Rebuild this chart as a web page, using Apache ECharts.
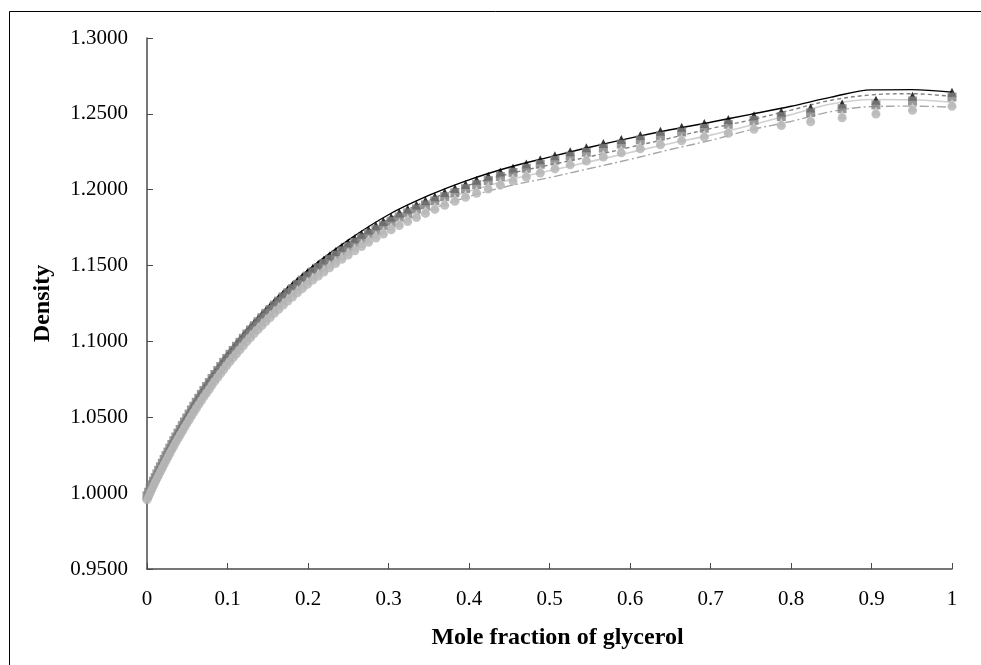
<!DOCTYPE html>
<html>
<head>
<meta charset="utf-8">
<script src="https://cdn.jsdelivr.net/npm/echarts@6/dist/echarts.min.js"></script>
<style>
html,body{margin:0;padding:0;background:#fff;}
#chart{width:981px;height:665px;}
</style>
</head>
<body>
<div id="chart"></div>
<script>
// Mole fraction of glycerol for the measured points
var moleFraction = [0,0.0020,0.0040,0.0060,0.0081,0.0102,0.0123,0.0145,0.0167,0.0190,
0.0213,0.0236,0.0260,0.0284,0.0309,0.0334,0.0359,0.0385,0.0412,0.0439,
0.0466,0.0494,0.0523,0.0552,0.0582,0.0612,0.0643,0.0675,0.0707,0.0740,
0.0774,0.0808,0.0843,0.0879,0.0916,0.0953,0.0991,0.1031,0.1071,0.1112,
0.1154,0.1197,0.1241,0.1286,0.1332,0.1380,0.1428,0.1478,0.1530,0.1582,
0.1636,0.1692,0.1749,0.1807,0.1868,0.1930,0.1993,0.2059,0.2127,0.2197,
0.2269,0.2343,0.2420,0.2499,0.2580,0.2665,0.2752,0.2843,0.2936,0.3033,
0.3134,0.3238,0.3347,0.3459,0.3576,0.3698,0.3825,0.3957,0.4095,0.4239,
0.4390,0.4547,0.4712,0.4885,0.5067,0.5257,0.5458,0.5669,0.5892,0.6128,
0.6378,0.6642,0.6923,0.7221,0.7540,0.7880,0.8244,0.8635,0.9055,0.9509,
1.0000];

var densBlackTri = [0.9991,1.0015,1.0040,1.0064,1.0088,1.0112,1.0136,1.0160,1.0184,1.0208,
1.0233,1.0258,1.0283,1.0308,1.0333,1.0358,1.0383,1.0408,1.0433,1.0458,
1.0483,1.0509,1.0535,1.0562,1.0588,1.0614,1.0640,1.0666,1.0693,1.0719,
1.0745,1.0772,1.0799,1.0825,1.0852,1.0879,1.0906,1.0933,1.0959,1.0986,
1.1013,1.1040,1.1068,1.1095,1.1123,1.1150,1.1177,1.1205,1.1232,1.1260,
1.1287,1.1315,1.1343,1.1370,1.1398,1.1426,1.1454,1.1482,1.1509,1.1537,
1.1565,1.1593,1.1621,1.1649,1.1677,1.1706,1.1734,1.1762,1.1790,1.1818,
1.1846,1.1873,1.1900,1.1927,1.1954,1.1981,1.2008,1.2035,1.2062,1.2089,
1.2116,1.2143,1.2170,1.2197,1.2224,1.2251,1.2277,1.2304,1.2331,1.2358,
1.2385,1.2411,1.2436,1.2462,1.2488,1.2513,1.2539,1.2565,1.2590,1.2616,
1.2642];

var densSquare = [0.9982,1.0006,1.0031,1.0055,1.0078,1.0102,1.0126,1.0150,1.0173,1.0197,
1.0222,1.0247,1.0271,1.0296,1.0321,1.0346,1.0370,1.0395,1.0420,1.0445,
1.0469,1.0495,1.0521,1.0548,1.0573,1.0599,1.0625,1.0651,1.0677,1.0703,
1.0729,1.0756,1.0782,1.0808,1.0835,1.0862,1.0888,1.0915,1.0941,1.0968,
1.0994,1.1021,1.1049,1.1076,1.1103,1.1130,1.1157,1.1185,1.1211,1.1239,
1.1266,1.1294,1.1321,1.1348,1.1376,1.1404,1.1431,1.1459,1.1486,1.1514,
1.1541,1.1569,1.1597,1.1625,1.1652,1.1681,1.1709,1.1737,1.1764,1.1792,
1.1820,1.1847,1.1873,1.1900,1.1927,1.1954,1.1980,1.2007,1.2034,1.2061,
1.2087,1.2114,1.2141,1.2168,1.2194,1.2221,1.2247,1.2274,1.2301,1.2328,
1.2354,1.2380,1.2405,1.2431,1.2457,1.2482,1.2508,1.2534,1.2559,1.2585,
1.2611];

var densLightTri = [0.9976,0.9999,1.0023,1.0047,1.0070,1.0093,1.0116,1.0139,1.0162,1.0186,
1.0210,1.0234,1.0258,1.0282,1.0307,1.0331,1.0355,1.0379,1.0403,1.0427,
1.0452,1.0477,1.0502,1.0528,1.0553,1.0578,1.0604,1.0629,1.0655,1.0680,
1.0705,1.0732,1.0758,1.0783,1.0809,1.0835,1.0861,1.0888,1.0913,1.0939,
1.0965,1.0991,1.1019,1.1045,1.1072,1.1098,1.1124,1.1151,1.1178,1.1205,
1.1231,1.1259,1.1286,1.1313,1.1341,1.1368,1.1396,1.1424,1.1450,1.1478,
1.1506,1.1533,1.1561,1.1589,1.1617,1.1645,1.1673,1.1701,1.1728,1.1756,
1.1784,1.1810,1.1837,1.1864,1.1890,1.1917,1.1944,1.1970,1.1997,1.2024,
1.2050,1.2077,1.2104,1.2130,1.2157,1.2184,1.2209,1.2236,1.2263,1.2290,
1.2316,1.2342,1.2367,1.2392,1.2418,1.2443,1.2468,1.2494,1.2519,1.2544,
1.2570];

var densCircle = [0.9956,0.9979,1.0003,1.0027,1.0050,1.0073,1.0096,1.0119,1.0142,1.0166,
1.0190,1.0214,1.0238,1.0262,1.0287,1.0311,1.0335,1.0359,1.0383,1.0407,
1.0432,1.0457,1.0482,1.0508,1.0533,1.0558,1.0584,1.0609,1.0635,1.0660,
1.0685,1.0712,1.0738,1.0763,1.0789,1.0815,1.0841,1.0868,1.0893,1.0919,
1.0945,1.0971,1.0999,1.1025,1.1052,1.1078,1.1104,1.1131,1.1158,1.1185,
1.1211,1.1239,1.1266,1.1293,1.1321,1.1348,1.1376,1.1404,1.1430,1.1458,
1.1486,1.1513,1.1541,1.1569,1.1597,1.1625,1.1653,1.1681,1.1708,1.1736,
1.1764,1.1790,1.1817,1.1844,1.1870,1.1897,1.1924,1.1950,1.1977,1.2004,
1.2030,1.2057,1.2084,1.2110,1.2137,1.2164,1.2189,1.2216,1.2243,1.2270,
1.2296,1.2322,1.2347,1.2372,1.2398,1.2423,1.2448,1.2474,1.2499,1.2524,
1.2550];

// Model curves
var curveX = [0,0.02,0.05,0.1,0.15,0.2,0.25,0.3,0.35,0.4,0.45,0.5,0.55,0.6,0.65,0.7,0.75,0.8,0.85,0.9,0.95,1.0];
var curveBlack = [0.9991,1.0220,1.0518,1.0918,1.1228,1.1470,1.1668,1.1835,1.1962,1.2065,1.2148,1.2215,1.2280,1.2340,1.2395,1.2445,1.2497,1.2550,1.2610,1.2658,1.2660,1.2643];
var curveDashed = [0.9982,1.0208,1.0503,1.0900,1.1208,1.1448,1.1643,1.1805,1.1932,1.2030,1.2105,1.2163,1.2218,1.2280,1.2340,1.2403,1.2460,1.2525,1.2590,1.2625,1.2633,1.2615];
var curveLight = [0.9971,1.0192,1.0485,1.0880,1.1185,1.1422,1.1615,1.1773,1.1900,1.1990,1.2065,1.2125,1.2185,1.2245,1.2305,1.2360,1.2425,1.2495,1.2565,1.2595,1.2593,1.2577];
var curveDashDot = [0.9957,1.0175,1.0465,1.0855,1.1160,1.1395,1.1585,1.1740,1.1865,1.1955,1.2025,1.2080,1.2140,1.2200,1.2265,1.2325,1.2395,1.2450,1.2515,1.2548,1.2551,1.2544];

var xTicks = [0,0.1,0.2,0.3,0.4,0.5,0.6,0.7,0.8,0.9,1];
var yTicks = [0.95,1.00,1.05,1.10,1.15,1.20,1.25,1.30];

function pairs(xs, ys){ return xs.map(function(x,i){ return [x, ys[i]]; }); }

var chart = echarts.init(document.getElementById('chart'), null, {renderer:'canvas'});
var serif = '"Liberation Serif", "DejaVu Serif", serif';
var axisCol = '#4a4a4a';

function lineSeries(ys, color, type, width){
  return {type:'line', data:pairs(curveX, ys), smooth:0.35, showSymbol:false, symbol:'none',
    lineStyle:{color:color, width:width, type:type}, z:2, silent:true};
}
function markSeries(ys, symbol, color, size, z){
  return {type:'scatter', data:pairs(moleFraction, ys), symbol:symbol, symbolSize:size,
    itemStyle:{color:color}, z:z, silent:true};
}

chart.setOption({
  animation:false,
  backgroundColor:'#fff',
  grid:{left:147, right:29, top:38, bottom:96, containLabel:false},
  xAxis:{type:'value', min:xTicks[0], max:xTicks[xTicks.length-1], interval:0.1,
    name:'Mole fraction of glycerol', nameLocation:'middle', nameGap:57,
    nameTextStyle:{fontFamily:serif, fontWeight:'bold', fontSize:24, color:'#000', padding:[0,0,0,16]},
    axisLine:{show:true, onZero:false, lineStyle:{color:axisCol, width:1.5}},
    axisTick:{show:true, inside:true, length:6, lineStyle:{color:axisCol}},
    axisLabel:{fontFamily:serif, fontSize:21, color:'#000', margin:20,
      formatter:function(v){ return String(Math.round(v*10)/10); }},
    splitLine:{show:false}},
  yAxis:{type:'value', min:yTicks[0], max:yTicks[yTicks.length-1], interval:0.05,
    name:'Density', nameLocation:'middle', nameGap:92, nameRotate:90,
    nameTextStyle:{fontFamily:serif, fontWeight:'bold', fontSize:24, color:'#000'},
    axisLine:{show:true, onZero:false, lineStyle:{color:axisCol, width:1.5}},
    axisTick:{show:true, inside:true, length:6, lineStyle:{color:axisCol}},
    axisLabel:{fontFamily:serif, fontSize:21, color:'#000', margin:19,
      formatter:function(v){ return v.toFixed(4); }},
    splitLine:{show:false}},
  graphic:[{type:'rect', shape:{x:9.5, y:11.5, width:1100, height:800},
    style:{fill:null, stroke:'#000', lineWidth:1}, z:-1, silent:true}],
  series:[
    lineSeries(curveDashDot, '#a6a6a6', [9,3,2,3], 1.4),
    lineSeries(curveLight, '#d0d0d0', 'solid', 1.6),
    lineSeries(curveDashed, '#808080', [4,3], 1.4),
    lineSeries(curveBlack, '#000000', 'solid', 1.4),
    markSeries(densBlackTri, 'triangle', '#000000', 9, 3),
    markSeries(densSquare, 'rect', '#808080', 9, 4),
    markSeries(densLightTri, 'triangle', '#d4d4d4', 9, 5),
    markSeries(densCircle, 'circle', '#b3b3b3', 9, 6)
  ]
});
</script>
</body>
</html>
